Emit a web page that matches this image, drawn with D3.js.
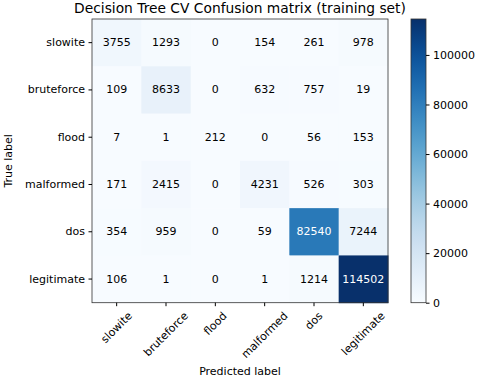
<!DOCTYPE html>
<html>
<head>
<meta charset="utf-8">
<script src="https://cdn.jsdelivr.net/npm/d3@7"></script>
<style>
  body { margin: 0; background: #fff; }
  svg { font-family: 'DejaVu Sans', sans-serif; }
</style>
</head>
<body>
<script>
const classes = ['slowite', 'bruteforce', 'flood', 'malformed', 'dos', 'legitimate'];
const matrix = [
  [3755, 1293, 0, 154, 261, 978],
  [109, 8633, 0, 632, 757, 19],
  [7, 1, 212, 0, 56, 153],
  [171, 2415, 0, 4231, 526, 303],
  [354, 959, 0, 59, 82540, 7244],
  [106, 1, 0, 1, 1214, 114502],
];
const colorTicks = [0, 20000, 40000, 60000, 80000, 100000];

const W = 480, H = 381;
const box = { left: 92, top: 19, right: 388, bottom: 302.7 };
const cbar = { left: 411, right: 426 };
const fs = 11;

const svg = d3.select('body').append('svg').attr('width', W).attr('height', H);

const cells = [];
matrix.forEach((row, i) => row.forEach((v, j) => cells.push({ i, j, v })));

const vmax = d3.max(cells, (d) => d.v);
const vmin = d3.min(cells, (d) => d.v);
const color = d3.scaleSequential(d3.interpolateBlues).domain([vmin, vmax]);

const x = d3.scaleBand().domain(classes).range([box.left, box.right]);
const y = d3.scaleBand().domain(classes).range([box.top, box.bottom]);

svg.append('g')
  .selectAll('rect')
  .data(cells)
  .enter()
  .append('rect')
  .attr('x', (d) => x(classes[d.j]))
  .attr('y', (d) => y(classes[d.i]))
  .attr('width', x.bandwidth() + 0.5)
  .attr('height', y.bandwidth() + 0.5)
  .attr('fill', (d) => color(d.v));

const thresh = (vmax + vmin) / 2;
svg.append('g')
  .selectAll('text')
  .data(cells)
  .enter()
  .append('text')
  .attr('x', (d) => x(classes[d.j]) + x.bandwidth() / 2)
  .attr('y', (d) => y(classes[d.i]) + y.bandwidth() / 2)
  .attr('text-anchor', 'middle')
  .attr('dominant-baseline', 'central')
  .attr('font-size', fs)
  .attr('fill', (d) => (d.v > thresh ? '#fff' : '#000'))
  .text((d) => d.v);

svg.append('rect')
  .attr('x', box.left).attr('y', box.top)
  .attr('width', box.right - box.left).attr('height', box.bottom - box.top)
  .attr('fill', 'none').attr('stroke', '#333').attr('stroke-width', 0.8);

// y axis
const yAxis = svg.append('g')
  .attr('transform', `translate(${box.left},0)`)
  .call(d3.axisLeft(y).tickSize(3.5).tickPadding(3.5));
yAxis.select('.domain').remove();
yAxis.selectAll('text').attr('font-size', fs).attr('fill', '#000').style('font-family', 'DejaVu Sans');

// x axis, labels rotated 45deg with their box centred under the tick
const xAxis = svg.append('g')
  .attr('transform', `translate(0,${box.bottom})`)
  .call(d3.axisBottom(x).tickSize(3.5).tickPadding(3.5));
xAxis.select('.domain').remove();
xAxis.selectAll('text')
  .attr('font-size', fs)
  .attr('fill', '#000')
  .style('font-family', 'DejaVu Sans')
  .attr('text-anchor', 'middle')
  .attr('dominant-baseline', 'central')
  .attr('dy', null)
  .attr('y', 0)
  .attr('transform', function () {
    const w = this.getComputedTextLength();
    const h = (w + fs * 1.1) * Math.SQRT1_2;
    return `translate(0,${7 + h / 2}) rotate(-45)`;
  });

svg.append('text')
  .attr('x', W / 2).attr('y', 8)
  .attr('text-anchor', 'middle').attr('dominant-baseline', 'central')
  .attr('font-size', 13.8)
  .text('Decision Tree CV Confusion matrix (training set)');

svg.append('text')
  .attr('x', (box.left + box.right) / 2).attr('y', 371)
  .attr('text-anchor', 'middle').attr('dominant-baseline', 'central')
  .attr('font-size', fs)
  .text('Predicted label');

svg.append('text')
  .attr('transform', `translate(8,${(box.top + box.bottom) / 2}) rotate(-90)`)
  .attr('text-anchor', 'middle').attr('dominant-baseline', 'central')
  .attr('font-size', fs)
  .text('True label');

// colorbar
const defs = svg.append('defs');
const grad = defs.append('linearGradient')
  .attr('id', 'cbar').attr('x1', 0).attr('y1', 1).attr('x2', 0).attr('y2', 0);
d3.range(0, 1.0001, 0.05).forEach((t) => {
  grad.append('stop').attr('offset', t).attr('stop-color', d3.interpolateBlues(t));
});
svg.append('rect')
  .attr('x', cbar.left).attr('y', box.top)
  .attr('width', cbar.right - cbar.left).attr('height', box.bottom - box.top)
  .attr('fill', 'url(#cbar)')
  .attr('stroke', '#333').attr('stroke-width', 0.8);

const cy = d3.scaleLinear().domain([vmin, vmax]).range([box.bottom, box.top]);
const cAxis = svg.append('g')
  .attr('transform', `translate(${cbar.right},0)`)
  .call(d3.axisRight(cy).tickValues(colorTicks).tickFormat(d3.format('d')).tickSize(3.5).tickPadding(3.5));
cAxis.select('.domain').remove();
cAxis.selectAll('text').attr('font-size', fs).attr('fill', '#000').style('font-family', 'DejaVu Sans');
</script>
</body>
</html>
